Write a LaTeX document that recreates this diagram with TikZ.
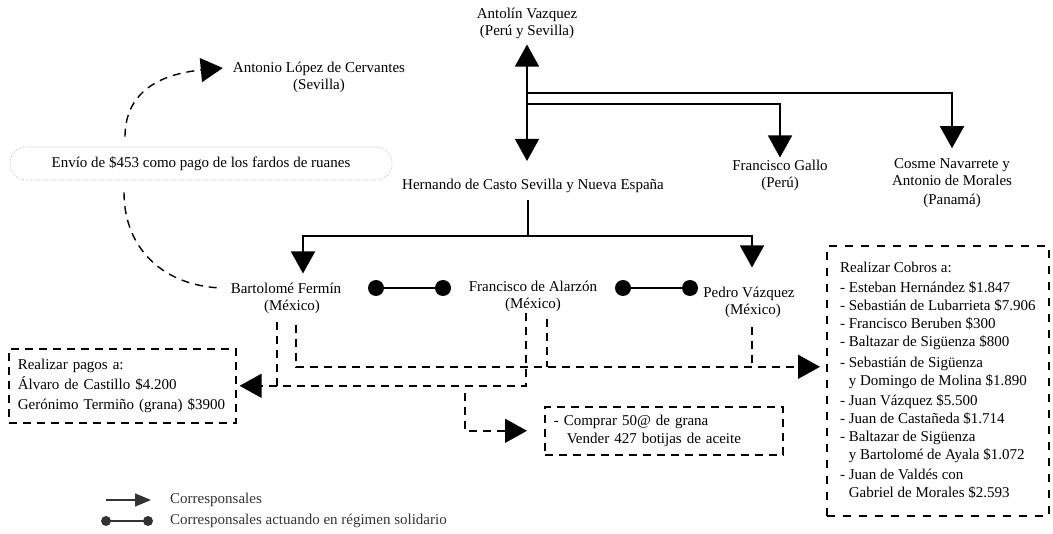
\documentclass[tikz,border=0pt]{standalone}
\usepackage{fontspec}
\setmainfont{Liberation Serif}
\usetikzlibrary{arrows.meta}

\begin{document}
\begin{tikzpicture}[x=1pt, y=-1pt,
    font=\fontsize{15}{17}\selectfont,
    persona/.style={align=center, inner sep=1pt},
    corresp/.style={line width=1.6pt, -{Triangle[length=22pt,width=24pt]}},
    doble/.style={line width=1.6pt, {Triangle[length=22pt,width=24pt]}-{Triangle[length=22pt,width=24pt]}},
    solidario/.style={line width=1.6pt},
    trazo/.style={line width=1.6pt, dash pattern=on 8pt off 6pt},
    tarea/.style={trazo, -{Triangle[length=22pt,width=24pt]}},
    caja/.style={draw, line width=1.6pt, dash pattern=on 8pt off 6pt, align=left, anchor=north west, inner xsep=9pt, inner ysep=0pt},
    envio/.style={draw=black!30, densely dotted, line width=0.6pt, rounded corners=16pt, minimum width=382pt, minimum height=33pt},
    leyenda/.style={text=black!80, inner sep=0pt}]
    \useasboundingbox (0,0) rectangle (1053,534);

    %Personas
    \node[persona] (antolin) at (527,23) {Antolín Vazquez\\(Perú y Sevilla)};
    \node[persona] (hernando) at (533,186) {Hernando de Casto Sevilla y Nueva España};
    \node[persona] (gallo) at (780,175) {Francisco Gallo\\(Perú)};
    \node[persona] (cosme) at (952,183) {Cosme Navarrete y\\Antonio de Morales\\[2pt](Panamá)};
    \node[persona] (cervantes) at (319,77) {Antonio López de Cervantes\\(Sevilla)};
    \node[persona] (bartolome) at (286,298) {Bartolomé Fermín\\\hspace*{12pt}(México)};
    \node[persona] (alarzon) at (533,296) {Francisco de Alarzón\\(México)};
    \node[persona] (pedro) at (749,302) {Pedro Vázquez\\\hspace*{8pt}(México)};
    \node[envio] (envio) at (201,163.5) {Envío de \$453 como pago de los fardos de ruanes};

    %Tareas
    \node[caja, text width=209pt, minimum height=74pt, font=\fontsize{15}{20}\selectfont] (pagos) at (8,348)
        {Realizar pagos a:\\Álvaro de Castillo \$4.200\\Gerónimo Termiño (grana) \$3900};
    \node[caja, text width=220pt, minimum height=48pt, font=\fontsize{15}{18}\selectfont] (compras) at (544,406)
        {- Comprar 50@ de grana\\\hspace*{13pt}Vender 427 botijas de aceite};
    \node[caja, minimum width=222pt, minimum height=270pt, dash pattern=on 8pt off 8pt, font=\fontsize{15}{18}\selectfont] (cobros) at (826,245)
        {Realizar Cobros a:\\[2pt]
        - Esteban Hernández \$1.847\\
        - Sebastián de Lubarrieta \$7.906\\
        - Francisco Beruben \$300\\
        - Baltazar de Sigüenza \$800\\[3pt]
        - Sebastián de Sigüenza\\
        \hphantom{- }y Domingo de Molina \$1.890\\[2pt]
        - Juan Vázquez \$5.500\\
        - Juan de Castañeda \$1.714\\
        - Baltazar de Sigüenza\\
        \hphantom{- }y Bartolomé de Ayala \$1.072\\[2pt]
        - Juan de Valdés con\\
        \hphantom{- }Gabriel de Morales \$2.593};

    %Corresponsales
    \coordinate (j1) at (527,93);
    \coordinate (j2) at (527,104);
    \coordinate (j3) at (528,236);
    \draw[doble, shorten <=5pt, shorten >=17pt] (antolin.south) -- (antolin.south |- hernando.north);
    \draw[corresp, shorten >=9pt] (j1) -| (cosme.north);
    \draw[corresp, shorten >=1pt] (j2) -| (gallo.north);
    \draw[solidario] (j3 |- hernando.south) ++(0,6) -- (j3);
    \draw[corresp, shorten >=8pt] (j3) -| ([xshift=17pt]bartolome.north);
    \draw[corresp, shorten >=18pt] (j3) -| ([xshift=3pt]pedro.north);

    %Regimen solidario
    \coordinate (s1) at (376,288);
    \coordinate (s2) at (443,288);
    \coordinate (s3) at (623,288);
    \coordinate (s4) at (690,288);
    \draw[solidario] (s1) -- (s2) (s3) -- (s4);
    \fill (s1) circle (8pt) (s2) circle (8pt) (s3) circle (8pt) (s4) circle (8pt);

    %Pagos, cobros y compras
    \coordinate (cin) at ([yshift=14pt]cobros.west);
    \coordinate (k1) at (465,393);
    \draw[trazo, shorten <=7pt] ([xshift=-9pt]bartolome.south) -- ([xshift=-9pt]bartolome.south |- pagos.east);
    \draw[tarea, shorten >=3pt] ([xshift=-7pt]alarzon.south) |- (pagos.east);
    \draw[tarea, shorten <=10pt, shorten >=6pt] ([xshift=10pt]bartolome.south) |- (cin);
    \draw[trazo, shorten <=6pt] ([xshift=14pt]alarzon.south) -- ([xshift=14pt]alarzon.south |- cin);
    \draw[trazo, shorten <=8pt] ([xshift=3pt]pedro.south) -- ([xshift=3pt]pedro.south |- cin);
    \draw[tarea, shorten >=17pt] (k1) |- (compras.west);

    %Envio a Sevilla
    \draw[trazo, line width=1.4pt, -{Triangle[length=22pt,width=24pt]}] ([xshift=-76pt,yshift=10pt]envio.north) .. controls (125,92) and (160,74) .. ([xshift=-9pt,yshift=9pt]cervantes.west);
    \draw[trazo, line width=1.4pt] ([xshift=-77pt,yshift=-12pt]envio.south) .. controls (124,250) and (165,286) .. ([xshift=-8pt,yshift=10pt]bartolome.west);

    %Leyenda
    \node[leyenda, anchor=west] (ley1) at (170,500) {Corresponsales};
    \node[leyenda, anchor=west] (ley2) at (170,521) {Corresponsales actuando en régimen solidario};
    \draw[black!80, line width=1.4pt, -{Triangle[length=16pt,width=13pt]}] ([xshift=-64pt]ley1.west) -- ([xshift=-19pt]ley1.west);
    \draw[black!80, line width=1.4pt] ([xshift=-64pt]ley2.west) coordinate (s5) -- ([xshift=-22pt]ley2.west) coordinate (s6);
    \fill[black!80] (s5) circle (5pt) (s6) circle (5pt);
\end{tikzpicture}
\end{document}
